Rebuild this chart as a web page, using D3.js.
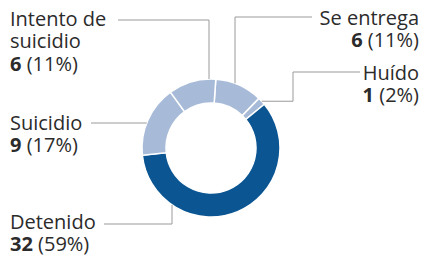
<!DOCTYPE html>
<html>
<head>
<meta charset="utf-8">
<script src="https://cdn.jsdelivr.net/npm/d3@7"></script>
<style>
  body { margin: 0; background: #fff; }
  text { font-family: "Open Sans", sans-serif; fill: #2b2b2b; }
</style>
</head>
<body>
<div id="chart"></div>
<script>
// data, in drawing order (clockwise from the top)
const categories = ["Se entrega", "Huído", "Detenido", "Suicidio", "Intento de suicidio"];
const counts = [6, 1, 32, 9, 6];
const percents = ["11%", "2%", "59%", "17%", "11%"];
const labelLines = [["Se entrega"], ["Huído"], ["Detenido"], ["Suicidio"], ["Intento de", "suicidio"]];

const width = 424, height = 256;
const cx = 211, cy = 148;
const outerR = 69, innerR = 45;
const startDeg = 4;
const darkBlue = "#0a5592", lightBlue = "#a7bbd9", lineGrey = "#9a9a9a";
const fontSize = 20, lineH = 22.3;

const svg = d3.select("#chart").append("svg")
    .attr("width", width)
    .attr("height", height);

const pie = d3.pie()
    .sort(null)
    .value(d => d)
    .startAngle(startDeg * Math.PI / 180)
    .endAngle(startDeg * Math.PI / 180 + 2 * Math.PI);
const arcs = pie(counts);

const arc = d3.arc().innerRadius(innerR).outerRadius(outerR);

const g = svg.append("g").attr("transform", `translate(${cx},${cy})`);
g.selectAll("path.slice")
    .data(arcs)
    .enter()
    .append("path")
    .attr("class", "slice")
    .attr("d", arc)
    .attr("fill", (d, i) => categories[i] === "Detenido" ? darkBlue : lightBlue)
    .attr("stroke", "#fff")
    .attr("stroke-width", 1.5);

// point on the outer rim
function rimAt(angle) {
    return [cx + outerR * Math.sin(angle), cy - outerR * Math.cos(angle)];
}
function rimYforX(x) { // upper half
    return cy - Math.sqrt(outerR * outerR - (x - cx) * (x - cx));
}
function rimYforXlow(x) {
    return cy + Math.sqrt(outerR * outerR - (x - cx) * (x - cx));
}
function rimXforY(y) { // left half
    return cx - Math.sqrt(outerR * outerR - (y - cy) * (y - cy));
}

// label layout: anchor, text position, leader polyline
const layout = {
    "Se entrega": { x: 419, y: 25, anchor: "end",
        line: () => { const x = 235; return [[312, 17], [x, 17], [x, rimYforX(x)]]; } },
    "Huído": { x: 419, y: 80, anchor: "end",
        line: (d) => { const p = rimAt((d.startAngle + d.endAngle) / 2); return [[360, 72], [293, 72], [293, p[1]], p]; } },
    "Detenido": { x: 10, y: 229, anchor: "start",
        line: () => { const x = 172; return [[104, 224], [x, 224], [x, rimYforXlow(x)]]; } },
    "Suicidio": { x: 10, y: 130, anchor: "start",
        line: () => { const y = 123; return [[91, y], [rimXforY(y), y]]; } },
    "Intento de suicidio": { x: 10, y: 26, anchor: "start",
        line: () => { const x = 209; return [[118, 20], [x, 20], [x, rimYforX(x)]]; } }
};

const lineGen = d3.line();

arcs.forEach((d, i) => {
    const L = layout[categories[i]];
    svg.append("path")
        .attr("d", lineGen(L.line(d)))
        .attr("fill", "none")
        .attr("stroke", lineGrey)
        .attr("stroke-width", 1);

    labelLines[i].forEach((s, k) => {
        svg.append("text")
            .attr("x", L.x)
            .attr("y", L.y + k * lineH)
            .attr("text-anchor", L.anchor)
            .attr("font-size", fontSize)
            .text(s);
    });
    const t = svg.append("text")
        .attr("x", L.x)
        .attr("y", L.y + labelLines[i].length * lineH)
        .attr("text-anchor", L.anchor)
        .attr("font-size", fontSize);
    t.append("tspan").attr("font-weight", "bold").text(counts[i]);
    t.append("tspan").text(" (" + percents[i] + ")");
});
</script>
</body>
</html>
